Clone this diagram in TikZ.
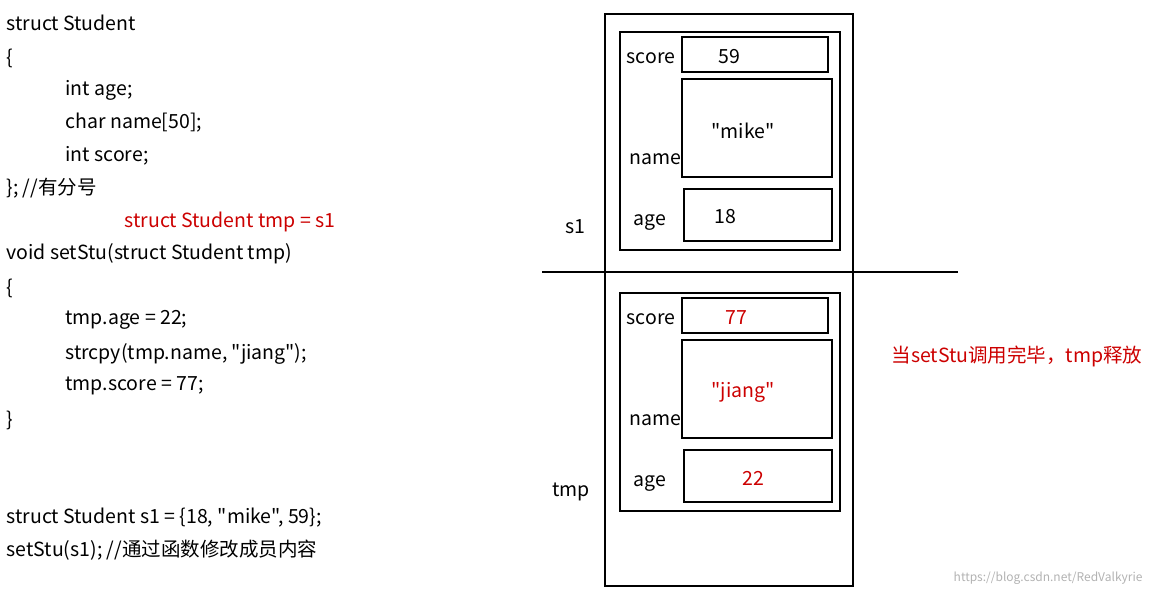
\documentclass[tikz,border=0pt]{standalone}
\usepackage{fontspec}
\setmainfont{Noto Sans CJK SC}[Ligatures=TeXOff]
\begin{document}
\begin{tikzpicture}[x=1pt,y=-1pt,
    code/.style={anchor=west,font=\fontsize{19.5}{22}\selectfont},
    lbl/.style={font=\fontsize{19.5}{22}\selectfont},
    red/.style={text=red!80!black},
    box/.style={draw,line width=2.8pt}]
\useasboundingbox (0,0) rectangle (1153,596);
% code on the left
\node[code] (c1) at (3,23) {struct Student};
\node[code] (c2) at (3,58) {\{};
\node[code] (c3) at (62,90) {int age;};
\node[code] (c4) at (62,123) {char name[50];};
\node[code] (c5) at (62,156) {int score;};
\node[code] (c6) at (3,188) {\}; //有分号};
\node[code,red] (c7) at (121,222) {struct Student tmp = s1};
\node[code] (c8) at (3,254) {void setStu(struct Student tmp)};
\node[code] (c9) at (3,288) {\{};
\node[code] (c10) at (62,320) {tmp.age = 22;};
\node[code] (c11) at (62,354) {strcpy(tmp.name, "jiang");};
\node[code] (c12) at (62,386) {tmp.score = 77;};
\node[code] (c13) at (3,420) {\}};
\node[code] (c14) at (3,518) {struct Student s1 = \{18, "mike", 59\};};
\node[code] (c15) at (3,550) {setStu(s1); //通过函数修改成员内容};
% memory
\draw[box] (605,14) rectangle (853,586);
\draw[box] (542,272) -- (958,272);
\foreach \dy/\sc/\scx/\na/\ag/\agx/\st in {0/59/729/mike/18/725/, 261/77/736/jiang/22/753/red} {
  \begin{scope}[yshift=-\dy]
    \draw[box] (620,32) rectangle (840,250);
    \draw[box] (682,37) rectangle (828,72);
    \draw[box] (682,79) rectangle (832,177);
    \draw[box] (684,189) rectangle (832,241);
    \node[lbl] at (651,58) {score};
    \node[lbl] at (655,159) {name};
    \node[lbl] at (650,223) {age};
    \node[lbl,\st] at (\scx,57) {\sc};
    \node[lbl,\st] at (743,131) {"\na"};
    \node[lbl,\st] at (\agx,217) {\ag};
  \end{scope}
}
\node[lbl] (s1) at (575,227) {s1};
\node[lbl] (tmp) at (571,492) {tmp};
\node[lbl,red] (note) at (1017,356) {当setStu调用完毕，tmp释放};
\node[text=gray!60,font=\fontsize{12}{14}\selectfont,anchor=east] (wm) at (1146,578) {https://blog.csdn.net/RedValkyrie};
\end{tikzpicture}
\end{document}
